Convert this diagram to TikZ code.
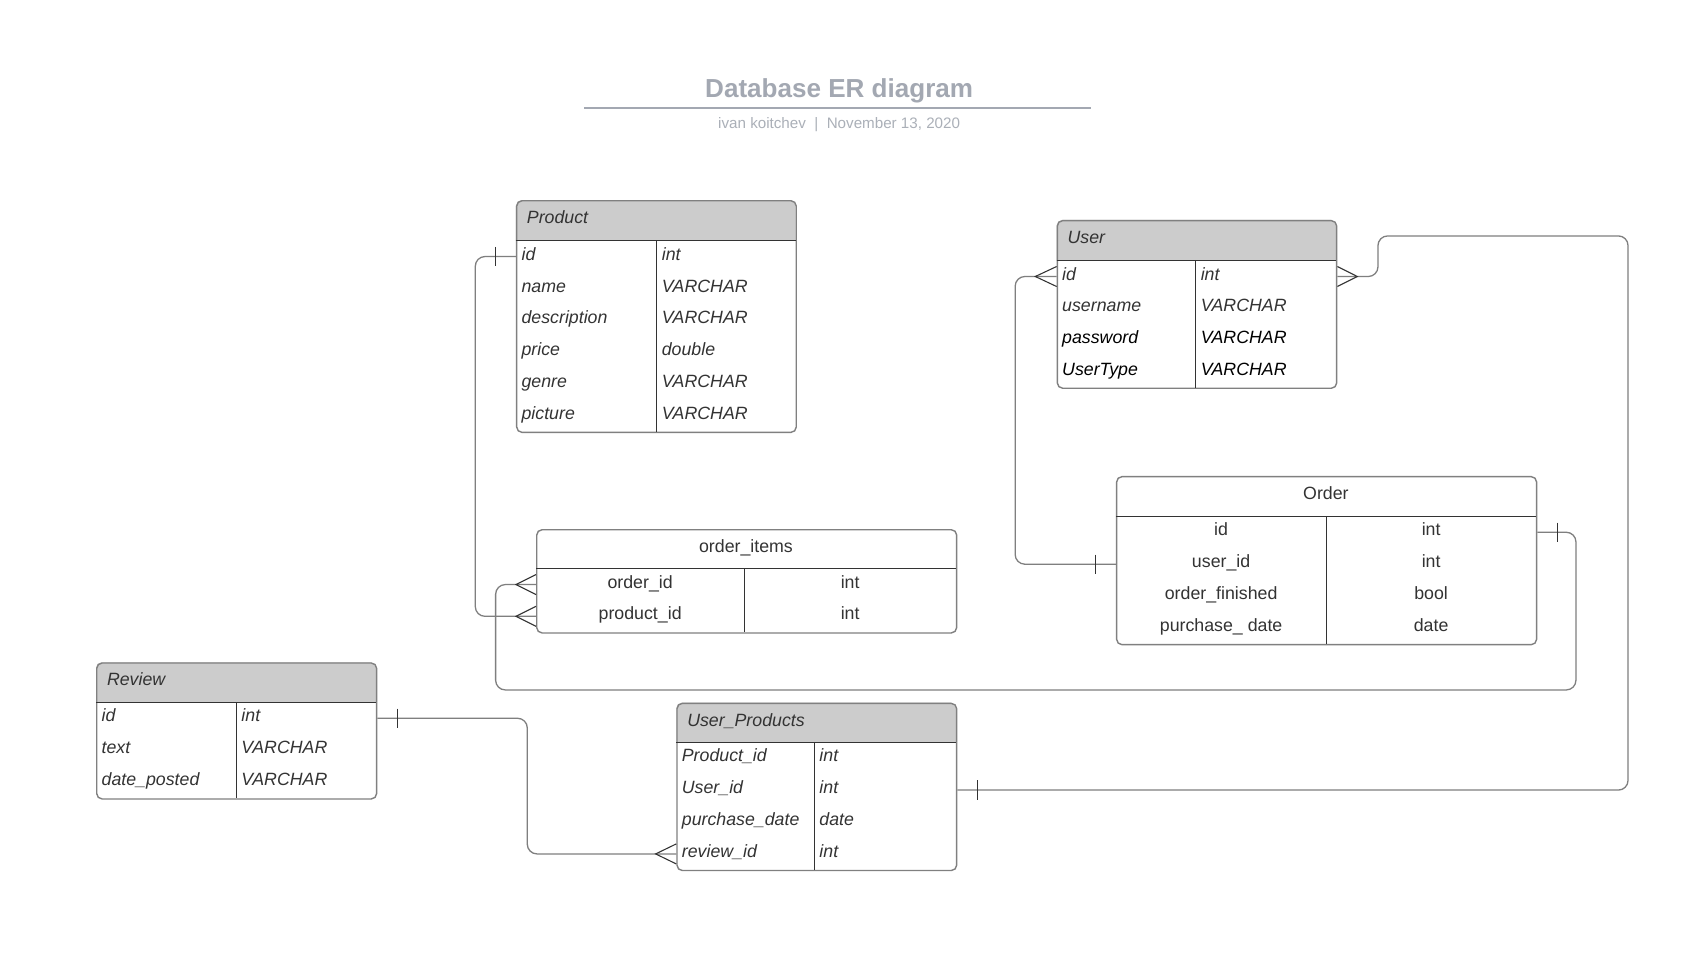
\documentclass[tikz,border=0pt]{standalone}
\usepackage{fontspec}
\setmainfont{Liberation Sans}
\usetikzlibrary{calc}
\definecolor{txt}{HTML}{333333}
\definecolor{hdrgray}{HTML}{CCCCCC}
\definecolor{bordergray}{HTML}{808080}
\definecolor{titlegray}{HTML}{A3A8B2}
\definecolor{subgray}{HTML}{ABB0B8}
\definecolor{linegray}{HTML}{7F7F7F}
\tikzset{
  tblbox/.style={draw=bordergray, line width=1.3pt, rounded corners=5pt, inner sep=0pt},
  hdrfill/.style={fill=hdrgray},
  nohdr/.style={fill=white},
  innerline/.style={draw=txt, line width=1.1pt},
  cell/.style={inner sep=0pt, text height=13pt, text depth=6.2pt, text=txt, font=\fontsize{16.5}{19}\selectfont},
  icell/.style={cell, font=\fontsize{16.5}{19}\selectfont\itshape},
  bcell/.style={icell, text=black},
  conn/.style={draw=linegray, line width=1.2pt, rounded corners=9pt},
  mk/.style={draw=txt, line width=1.0pt},
}
\newcommand{\ERtable}[8]{%
  \begin{scope}
    \clip (#2,#3) rectangle (#4,#5);
    \fill[#8, rounded corners=5pt] (#2,#3) rectangle (#4,#6);
  \end{scope}
  \node[tblbox, anchor=north west, minimum width={#4-#2}, minimum height={#6-#3}] (#1) at (#2,#3) {};
  \draw[innerline] (#2,#5) -- (#4,#5);
  \draw[innerline] (#7,#5) -- (#7,#6);
}
\begin{document}
\begin{tikzpicture}[x=1pt,y=-1pt]
\useasboundingbox[fill=white] (0,0) rectangle (1568,902);

% title
\node[font=\bfseries\fontsize{24.2}{28}\selectfont, text=titlegray, anchor=base, inner sep=0pt] (title) at (779.5,90.7) {Database ER diagram};
\draw[titlegray, line width=1.8pt] (542.5,100) -- (1013,100);
\node[font=\fontsize{14.1}{16}\selectfont, text=subgray, anchor=base, inner sep=0pt] (subtitle) at (779.5,119) {ivan koitchev~~|~~November 13, 2020};

% Product
\ERtable{product}{479.3}{185.8}{739}{223.5}{401}{610}{hdrfill}
\node[icell, anchor=west] (p-head) at (489.3,204.65) {Product};
\node[icell, anchor=west] (p-id) at (484.3,238.3) {id};
\node[icell, anchor=west] (p-name) at (484.3,267.9) {name};
\node[icell, anchor=west] (p-desc) at (484.3,297.4) {description};
\node[icell, anchor=west] (p-price) at (484.3,327.0) {price};
\node[icell, anchor=west] (p-genre) at (484.3,356.6) {genre};
\node[icell, anchor=west] (p-pic) at (484.3,386.2) {picture};
\node[icell, anchor=west] (p-id-t) at (614.6,238.3) {int};
\node[icell, anchor=west] (p-name-t) at (614.6,267.9) {VARCHAR};
\node[icell, anchor=west] (p-desc-t) at (614.6,297.4) {VARCHAR};
\node[icell, anchor=west] (p-price-t) at (614.6,327.0) {double};
\node[icell, anchor=west] (p-genre-t) at (614.6,356.6) {VARCHAR};
\node[icell, anchor=west] (p-pic-t) at (614.6,386.2) {VARCHAR};

% User
\ERtable{user}{981.5}{204.3}{1241}{242.1}{360}{1110.6}{hdrfill}
\node[icell, anchor=west] (u-head) at (991.5,223.2) {User};
\node[icell, anchor=west] (u-id) at (986.5,256.85) {id};
\node[icell, anchor=west] (u-name) at (986.5,286.35) {username};
\node[bcell, anchor=west] (u-pw) at (986.5,315.85) {password};
\node[bcell, anchor=west] (u-type) at (986.5,345.35) {UserType};
\node[icell, anchor=west] (u-id-t) at (1115.2,256.85) {int};
\node[icell, anchor=west] (u-name-t) at (1115.2,286.35) {VARCHAR};
\node[bcell, anchor=west] (u-pw-t) at (1115.2,315.85) {VARCHAR};
\node[bcell, anchor=west] (u-type-t) at (1115.2,345.35) {VARCHAR};

% Order
\ERtable{order}{1036.6}{442.1}{1426.7}{479.6}{598.2}{1232}{nohdr}
\node[cell] (o-head) at (1231.65,460.85) {Order};
\node[cell] (o-id) at (1134.3,494.4) {id};
\node[cell] (o-uid) at (1134.3,524.1) {user\_id};
\node[cell] (o-fin) at (1134.3,553.7) {order\_finished};
\node[cell] (o-date) at (1134.3,583.4) {purchase\_ date};
\node[cell] (o-id-t) at (1329.4,494.4) {int};
\node[cell] (o-uid-t) at (1329.4,524.1) {int};
\node[cell] (o-fin-t) at (1329.4,553.7) {bool};
\node[cell] (o-date-t) at (1329.4,583.4) {date};

% order_items
\ERtable{oi}{497.9}{491.4}{888}{528.2}{587.3}{691.4}{nohdr}
\node[cell] (oi-head) at (692.95,509.8) {order\_items};
\node[cell] (oi-oid) at (594.65,543) {order\_id};
\node[cell] (oi-pid) at (594.65,572.5) {product\_id};
\node[cell] (oi-oid-t) at (789.7,543) {int};
\node[cell] (oi-pid-t) at (789.7,572.5) {int};

% Review
\ERtable{review}{89.2}{615.2}{349.2}{652.3}{741.5}{219.5}{hdrfill}
\node[icell, anchor=west] (r-head) at (99.2,633.75) {Review};
\node[icell, anchor=west] (r-id) at (94.2,667.2) {id};
\node[icell, anchor=west] (r-text) at (94.2,696.9) {text};
\node[icell, anchor=west] (r-date) at (94.2,726.6) {date\_posted};
\node[icell, anchor=west] (r-id-t) at (224.1,667.2) {int};
\node[icell, anchor=west] (r-text-t) at (224.1,696.9) {VARCHAR};
\node[icell, anchor=west] (r-date-t) at (224.1,726.6) {VARCHAR};

% User_Products
\ERtable{up}{628.2}{652.7}{888}{689.5}{808}{756.4}{hdrfill}
\node[icell, anchor=west] (up-head) at (638.2,671.1) {User\_Products};
\node[icell, anchor=west] (up-pid) at (633.2,704.3) {Product\_id};
\node[icell, anchor=west] (up-uid) at (633.2,733.9) {User\_id};
\node[icell, anchor=west] (up-date) at (633.2,763.6) {purchase\_date};
\node[icell, anchor=west] (up-rid) at (633.2,793.2) {review\_id};
\node[icell, anchor=west] (up-pid-t) at (761,704.3) {int};
\node[icell, anchor=west] (up-uid-t) at (761,733.9) {int};
\node[icell, anchor=west] (up-date-t) at (761,763.6) {date};
\node[icell, anchor=west] (up-rid-t) at (761,793.2) {int};

% Connectors
% Product.id -> order_items.product_id
\draw[conn] (product.west |- p-id) -- ++(-37.8,0) |- (oi.west |- oi-pid);
\draw[mk] ($(product.west |- p-id)+(-19,-9)$) -- ++(0,18);
\draw[mk] ($(oi.west |- oi-pid)+(0,-9.3)$) -- ++(-18.6,9.3) -- ++(18.6,9.3);

% order_items.order_id -> Order.id
\draw[conn] (oi.west |- oi-oid) -- ++(-37.5,0) -- ++(0,97.9) -- ++(1003.5,0) |- (order.east |- o-id);
\draw[mk] ($(oi.west |- oi-oid)+(0,-9.3)$) -- ++(-18.6,9.3) -- ++(18.6,9.3);
\draw[mk] ($(order.east |- o-id)+(18.8,-9)$) -- ++(0,18);

% User.id -> Order.user_id
\draw[conn] (user.west |- u-id) -- ++(-38.5,0) |- (order.west |- o-uid);
\draw[mk] ($(user.west |- u-id)+(0,-9.3)$) -- ++(-19.8,9.3) -- ++(19.8,9.3);
\draw[mk] ($(order.west |- o-uid)+(-18.9,-9)$) -- ++(0,18);

% User.id -> User_Products.User_id
\draw[conn] (user.east |- u-id) -- ++(37.7,0) -- ++(0,-37.7) -- ++(232.3,0) |- (up.east |- up-uid);
\draw[mk] ($(user.east |- u-id)+(0,-9.3)$) -- ++(18.5,9.3) -- ++(-18.5,9.3);
\draw[mk] ($(up.east |- up-uid)+(18.8,-9)$) -- ++(0,18);

% Review.id -> User_Products.review_id
\draw[conn] (review.east |- r-id) -- ++(139.3,0) |- (up.west |- up-rid);
\draw[mk] ($(review.east |- r-id)+(18.6,-9)$) -- ++(0,18);
\draw[mk] ($(up.west |- up-rid)+(0,-9.3)$) -- ++(-19.2,9.3) -- ++(19.2,9.3);
\end{tikzpicture}
\end{document}
